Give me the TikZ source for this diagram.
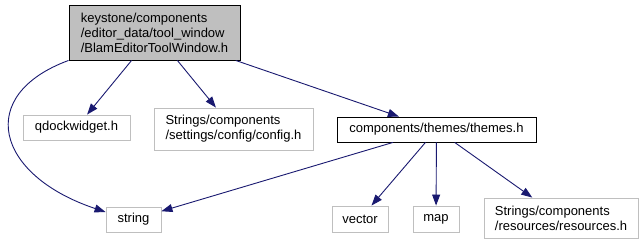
\documentclass[tikz,border=0pt]{standalone}
\usepackage{fontspec}
\setmainfont{Liberation Sans}
\usetikzlibrary{arrows.meta}
\definecolor{edgeblue}{HTML}{191970}
\definecolor{leafgray}{HTML}{BFBFBF}
\begin{document}
\begin{tikzpicture}[x=1pt,y=-1pt,
  font=\fontsize{13}{15}\selectfont,
  box/.style={draw=leafgray,line width=0.9pt,inner sep=0pt,align=left},
  edge/.style={draw=edgeblue,line width=0.9pt,-{Triangle[length=11pt,width=8pt]}}]
\useasboundingbox (0,0) rectangle (644,245);
\node[box,draw=black,fill=leafgray,minimum width=171,minimum height=55] (top) at (154.5,32.5)
  {keystone/components\\/editor\_data/tool\_window\\/BlamEditorToolWindow.h};
\node[box,minimum width=107,minimum height=25] (qdock) at (76.5,127.5) {qdockwidget.h};
\node[box,minimum width=159,minimum height=42] (config) at (233.5,129)
  {Strings/components\\/settings/config/config.h};
\node[box,draw=black,minimum width=199,minimum height=25] (themes) at (436.5,129.5) {components/themes/themes.h};
\node[box,minimum width=55,minimum height=25] (string) at (133.5,219.5) {string};
\node[box,minimum width=56,minimum height=26] (vector) at (360,219) {vector};
\node[box,minimum width=46,minimum height=26] (map) at (436,219) {map};
\node[box,minimum width=154,minimum height=40] (res) at (561,218)
  {Strings/components\\/resources/resources.h};
\draw[edge] (top.south west) .. controls (-25,95) and (-5,175) .. (string.165);
\draw[edge] (top) -- (qdock);
\draw[edge] (top) -- (config);
\draw[edge] (top) -- (themes);
\draw[edge] (themes) -- (string);
\draw[edge] (themes) -- (vector);
\draw[edge] (themes) -- (map);
\draw[edge] (themes) -- (res);
\end{tikzpicture}
\end{document}
